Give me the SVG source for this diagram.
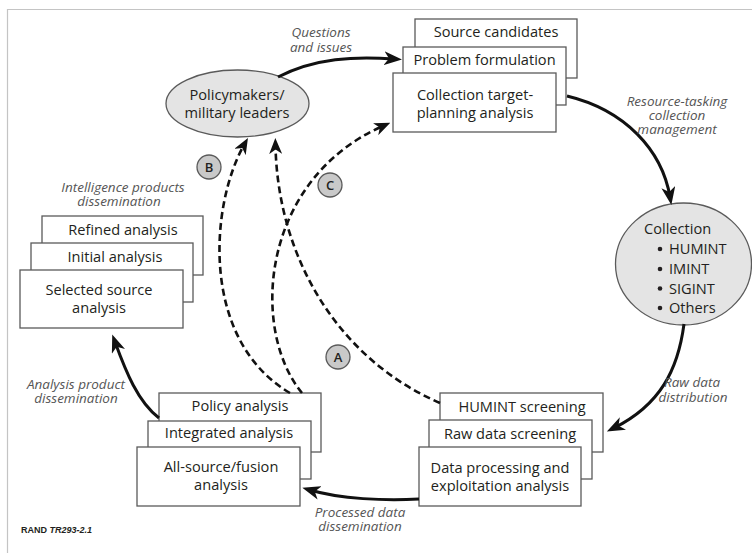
<svg xmlns="http://www.w3.org/2000/svg" width="752" height="553" viewBox="0 0 752 553">
<style>
.box{fill:#fff;stroke:#5a5a5a;stroke-width:1.3}
.ell{fill:#e4e4e4;stroke:#5a5a5a;stroke-width:1.3}
.t{font-family:"Open Sans","Noto Sans",sans-serif;font-size:14.6px;fill:#231f20;text-anchor:middle}
.tl{font-family:"Open Sans","Noto Sans",sans-serif;font-size:14.6px;fill:#231f20}
.lab{font-family:"Open Sans","Noto Sans",sans-serif;font-size:13.5px;font-style:italic;fill:#555;text-anchor:middle}
.solid{fill:none;stroke:#111;stroke-width:3}
.dash{fill:none;stroke:#111;stroke-width:2.6;stroke-dasharray:7 4}
.badge{fill:#c9c9c9;stroke:#5a5a5a;stroke-width:1.3}
.bt{font-family:"Open Sans","Noto Sans",sans-serif;font-size:13px;font-weight:600;fill:#231f20;text-anchor:middle}
</style>
<defs>
<marker id="ah" markerUnits="userSpaceOnUse" markerWidth="18" markerHeight="14" refX="10" refY="7" orient="auto">
<path d="M0,0 L18,7 L0,14 L5,7 z" fill="#111"/>
</marker>
<marker id="ahd" markerUnits="userSpaceOnUse" markerWidth="16" markerHeight="13" refX="8" refY="6.5" orient="auto">
<path d="M0,0 L16,6.5 L0,13 L4.5,6.5 z" fill="#111"/>
</marker>
</defs>
<rect width="752" height="553" fill="#fff"/>
<path d="M7.5,553 V9.5 H752" fill="none" stroke="#c4c4c4" stroke-width="1.2"/>

<g id="node-policymakers">
<ellipse class="ell" cx="237.5" cy="103.5" rx="71.5" ry="33.5"/>
<text class="t" x="237" y="100">Policymakers/<tspan x="237" dy="18">military leaders</tspan></text>
</g>

<g id="node-planning">
<rect class="box" x="415" y="19" width="162" height="59"/>
<text class="t" x="496" y="37">Source candidates</text>
<rect class="box" x="403" y="47" width="163" height="58"/>
<text class="t" x="484.5" y="65">Problem formulation</text>
<rect class="box" x="393" y="73" width="163" height="59"/>
<text class="t" x="475" y="100">Collection target-<tspan x="475" dy="17.5">planning analysis</tspan></text>
</g>

<g id="node-collection">
<ellipse class="ell" cx="683.5" cy="264" rx="68" ry="61"/>
<text class="tl" x="644" y="234">Collection</text>
<circle cx="660" cy="249" r="2.3" fill="#231f20"/>
<text class="tl" x="669" y="254">HUMINT</text>
<circle cx="660" cy="269" r="2.3" fill="#231f20"/>
<text class="tl" x="669" y="274">IMINT</text>
<circle cx="660" cy="288.5" r="2.3" fill="#231f20"/>
<text class="tl" x="669" y="293.5">SIGINT</text>
<circle cx="660" cy="308" r="2.3" fill="#231f20"/>
<text class="tl" x="669" y="313">Others</text>
</g>

<g id="node-processing">
<rect class="box" x="440" y="393" width="163" height="59"/>
<text class="t" x="522" y="412">HUMINT screening</text>
<rect class="box" x="429" y="420" width="163" height="59"/>
<text class="t" x="510" y="439">Raw data screening</text>
<rect class="box" x="419" y="447" width="162" height="59"/>
<text class="t" x="500" y="473">Data processing and<tspan x="500" dy="18">exploitation analysis</tspan></text>
</g>

<g id="node-allsource">
<rect class="box" x="159" y="393" width="162" height="59"/>
<text class="t" x="240" y="411">Policy analysis</text>
<rect class="box" x="148" y="421" width="163" height="58"/>
<text class="t" x="229" y="438">Integrated analysis</text>
<rect class="box" x="137" y="447" width="163" height="59"/>
<text class="t" x="221" y="472">All-source/fusion<tspan x="221" dy="17.5">analysis</tspan></text>
</g>

<g id="node-products">
<rect class="box" x="42" y="216" width="161" height="59"/>
<text class="t" x="123" y="235">Refined analysis</text>
<rect class="box" x="31" y="243" width="162" height="59"/>
<text class="t" x="115" y="262">Initial analysis</text>
<rect class="box" x="20" y="270" width="163" height="58"/>
<text class="t" x="99" y="295">Selected source<tspan x="99" dy="18">analysis</tspan></text>
</g>

<g id="connectors">
<path class="solid" d="M278,77 C315,58 355,56 394,59" marker-end="url(#ah)"/>
<path class="solid" d="M567,96 C625,110 662,150 670,197" marker-end="url(#ah)"/>
<path class="solid" d="M684,324 C678,370 660,405 614,428" marker-end="url(#ah)"/>
<path class="solid" d="M419,499 C385,501 340,499 310,490" marker-end="url(#ah)"/>
<path class="solid" d="M159,418 C138,402 126,372 115,342" marker-end="url(#ah)"/>
<path class="dash" d="M440,403 C340,360 278,260 275.5,146" marker-end="url(#ahd)"/>
<path class="dash" d="M290,393 C200,340 210,205 244,145" marker-end="url(#ahd)"/>
<path class="dash" d="M302,393 C250,330 260,180 383,126" marker-end="url(#ahd)"/>
</g>

<g id="labels">
<text class="lab" x="321" y="37">Questions<tspan x="321" dy="15">and issues</tspan></text>
<text class="lab" x="677" y="106">Resource-tasking<tspan x="677" dy="14">collection</tspan><tspan x="677" dy="14">management</tspan></text>
<text class="lab" x="692" y="387">Raw data<tspan x="693" dy="15">distribution</tspan></text>
<text class="lab" x="360" y="517">Processed data<tspan x="360" dy="14">dissemination</tspan></text>
<text class="lab" x="76" y="389">Analysis product<tspan x="76" dy="14">dissemination</tspan></text>
<text class="lab" x="123" y="192">Intelligence products<tspan x="119" dy="14">dissemination</tspan></text>
</g>

<g id="badge-A">
<circle class="badge" cx="338" cy="357" r="12"/>
<text class="bt" x="338" y="361.5">A</text>
</g>
<g id="badge-B">
<circle class="badge" cx="209" cy="167" r="12"/>
<text class="bt" x="209" y="171.5">B</text>
</g>
<g id="badge-C">
<circle class="badge" cx="330" cy="185" r="12"/>
<text class="bt" x="330" y="189.5">C</text>
</g>

<text x="21" y="533" font-family="'Liberation Sans',Arial,sans-serif" font-size="9" font-weight="bold" fill="#231f20">RAND <tspan font-style="italic">TR293-2.1</tspan></text>
</svg>
